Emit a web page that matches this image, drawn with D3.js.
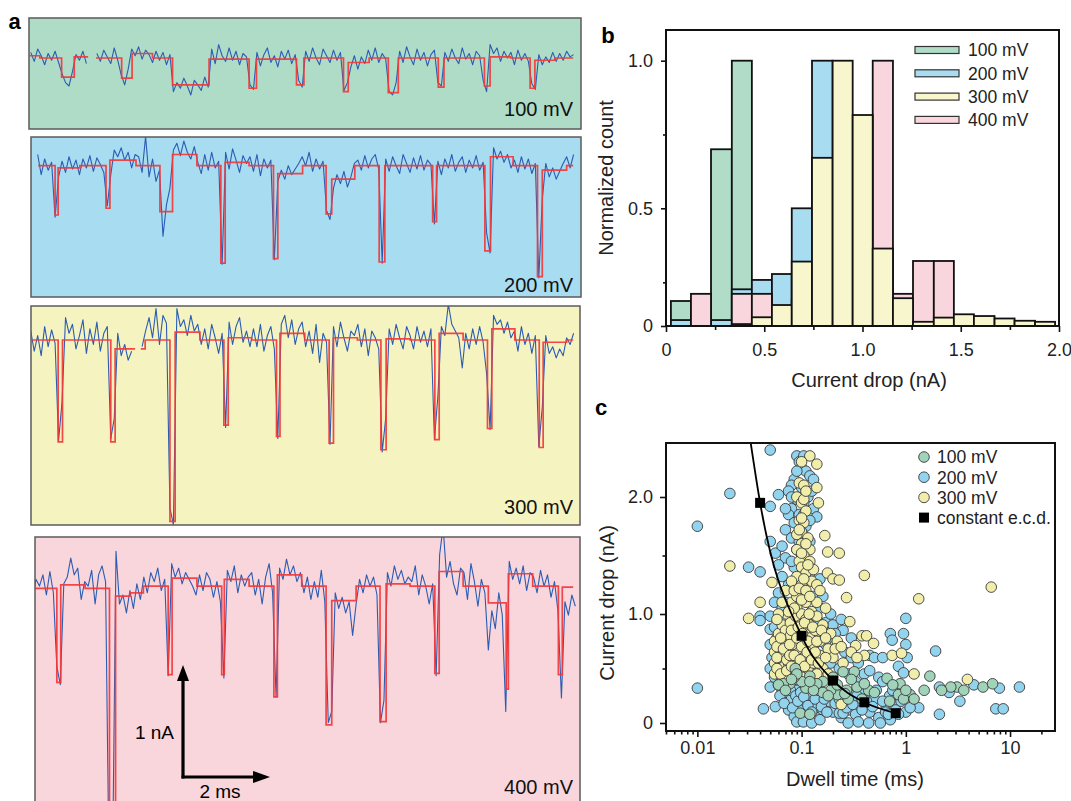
<!DOCTYPE html>
<html>
<head>
<meta charset="utf-8">
<script src="https://cdn.jsdelivr.net/npm/d3@7"></script>
<style>
  body { margin: 0; background: #fff; }
  svg { display: block; }
  text { font-family: "Liberation Sans", Arial, Helvetica, sans-serif; }
</style>
</head>
<body>
<svg id="fig" width="1071" height="801"></svg>
<script>
// ---------------- Panel a: current traces ----------------
const traceVoltages = ["100 mV", "200 mV", "300 mV", "400 mV"];

// Idealised (fitted) levels: [time ms, current nA relative to open pore]; null = gap in record
const fit100 = [[0.02,0.02],[0.25,0],[0.75,-0.17],[1.04,0.01],[1.36,0.01],[1.36,null],[1.54,0],[2.13,-0.18],[2.37,0.04],[2.84,0],[3.30,-0.24],[4.14,-0.01],[5.06,-0.27],[5.23,-0.01],[6.15,-0.24],[6.32,0],[7.23,-0.30],[7.34,-0.04],[7.82,0],[8.26,-0.31],[8.49,0],[9.41,-0.26],[9.54,0],[10.47,-0.25],[10.60,0.01],[11.07,0],[11.52,-0.27],[11.63,-0.02],[12.09,0],[12.51,0]];
const fit200 = [[0.21,0],[0.60,-0.44],[0.67,-0.02],[1.17,0],[1.77,-0.38],[1.86,0.05],[2.46,0],[3.01,-0.41],[3.30,0.10],[3.86,0],[4.41,-0.87],[4.51,0.03],[5.06,0],[5.62,-0.83],[5.72,-0.07],[6.29,0],[6.83,-0.43],[6.96,-0.12],[7.49,0],[8.05,-0.86],[8.18,0],[9.28,-0.50],[9.37,0],[10.48,-0.76],[10.61,0.08],[11.13,0],[11.69,-0.99],[11.80,-0.04],[12.36,0],[12.51,0]];
const fit300 = [[0.06,0],[0.67,-0.91],[0.77,0],[1.88,-0.91],[1.98,-0.08],[2.44,-0.08],[2.44,null],[2.57,-0.08],[2.67,0],[3.24,-1.62],[3.36,0.07],[3.93,0],[4.48,-0.76],[4.58,0.02],[5.12,0],[5.69,-0.86],[5.77,0.06],[6.34,0],[6.90,-0.92],[7.00,0.02],[7.55,0],[8.09,-0.98],[8.21,0.01],[8.76,0],[9.33,-0.89],[9.43,0.06],[9.98,0],[10.54,-0.79],[10.64,0.10],[11.17,0],[11.73,-0.96],[11.82,-0.02],[12.36,0],[12.51,0]];
const fit400 = [[0.10,0],[0.64,-0.84],[0.73,0.03],[1.29,0],[1.85,-2.3],[1.99,-0.07],[2.32,-0.04],[2.63,0.02],[3.20,-0.77],[3.29,0.09],[3.86,0.02],[4.43,-0.77],[4.49,0.08],[5.06,0.02],[5.63,-0.97],[5.71,0.12],[6.27,0.02],[6.83,-1.22],[6.96,-0.11],[7.52,0.02],[8.07,-1.19],[8.21,0.04],[8.76,0.02],[9.33,-0.76],[9.43,0.15],[9.98,0.02],[10.56,-0.13],[10.97,-0.90],[11.02,0.13],[11.58,0.02],[12.17,-0.77],[12.26,0.01],[12.51,0.01]];

// Recorded current, sampled every 0.08 ms, in units of 10 pA (null = gap)
const sampleStep = 0.08;
const sampleStart = [0.04, 0.20, 0.04, 0.08];
const raw100 = [5,-3,8, 2,-6,4,-2,6,-4, -14,-22,-25,-12, 3,-2,6,-5, null,null,
  4,-3,7,1,-5,9,-2, -15,-24,-10, 8,2,10,-1,7,3, -4,6,-2,5,-6,3,
  -30,-22,-27,-18,-25,-33,-20,-24,-29,-17,-26, 8,-5,12,2,-3,9,-2,6,-6,4,1,
  -24,-28, 5,-7,3,9,-4,2,-8,6,-1,7,-5,3, -20,-26, 6,-3,9,0,-6,8,2,-4,7,-2,5,
  -29,-22, -8,2,-10,1,-5, 7,-2,9,-4,4,-1, -30,-33,-22, 6,-4,10,1,-6,8,-2,5,-7,3,7,
  -22,-25, 5,-3,8,0,-5,9,-1,4,-6,6,2, -20,-30, 12,4,9,-3,6,0, 5,-6,7,-2,4,-3,
  -23,-28, 3,-6,1,-4,5,-3, 4,-2,6,1,3];
const raw200 = [10,-8,6,-4,3, -46, -10,4,-6,8,-3,5,-8, 6,-2,9,-5,7,1,-6, -36,
  -8,14,8,16,5,12,-2,10, 8,-6,26,-10,6,-14,-4, -63,-35,-20, 14,20,9,22,12,6,17,
  3,-7,10,-4,12,-2,4, -88, 12,-3,15,5,-6,9,2, 8,-5,10,-9,6,-2,5, -84,
  -14,-4,-12,0,-8,-3,2, 8,0,12,-5,6,-3,4, -40,-48, -20,-8,-16,-5,-19,-10,2,
  5,-4,9,-2,6,10,-3, -87, 6,-5,8,0,-7,10,2,-6,7,-3,9,-4,5,1, -52,
  4,-8,6,-2,10,-5,3,8,-6,5,-2,9,-4,3, -60,-78, 16,6,13,3,10,-2, 5,-6,8,-3,6,-7,2,
  -100, -30,2,-10,-2,-12,-5,2, 8,-2,10];
const raw300 = [8,-10,4,-14,12,-6,9,-3, -90,-55, 20,6,14,-8,4,18,-12,10,-4,16,-10,6,12,
  -88,-70, 6,-14,-4,-18,-10, null,null, -6, 8,20,2,28,-4,22,15, -150,-165,
  28,12,18,4,22,8,14, -4,10,-8,14,2,-12,6, -78, 16,-4,12,20,-2,8,-6,
  10,-6,14,-10,4,12,-8, -88, 14,22,2,18,-4,10,16, -6,8,-12,14,-20,6,-2, -93,
  12,-6,16,2,-10,8,4, 14,-6,10,-14,8,2,-8, -100,-70, 10,-4,14,2,-8,12,
  4,-8,12,-2,8,-6,10, -89,-50, 12,4,32,14,8,2, -25,6,-8,10,-4,12,-2, -30,-80,
  22,14,18,6,16,2, 8,-10,12,-4,6,-12,4, -95,-60, 4,-12,-6,-16,-8,-14, 2,-4,6];
const raw400 = [-10,8,2,12,-6,15,-4, -70,-86, 4,10,27,12,18,-10,6, 2,16,-14,12,20,6,
  -250,-250, 33,-14,-6,-22, -2,-18,4,-10, 10,-4,14,6,18,-2,8, -78,
  22,10,18,4,14,8,2, -6,12,-2,14,8,-8,6, -12,-80, 16,6,20,-4,12,2,10,
  14,-6,8,-14,10,22,-4, -97, 18,8,26,12,20,6,14, -4,10,-10,6,-8,16,-12,
  -120,-110, -4,-18,-8,-22,-12,-42,-14, 8,-4,12,2,10,-6, -120,-100,
  14,2,20,8,16,4,10, 6,20,-6,12,2,-14,4, -78, 30,55,10,24,4,-6,18,
  14,-10,22,6,-16,8,-4, -55,-20,-36,-4,-24,-110, 24,8,18,4,20,-2,14,
  10,-4,16,2,12,-8,6,-20, -98, -12,-24,-6,-16];

// ---------------- Panel b: current-drop histogram ----------------
const binEdges = [0.025,0.127,0.229,0.335,0.437,0.539,0.640,0.743,0.848,0.950,1.052,1.155,1.257,1.363,1.465,1.567,1.672,1.774,1.878,1.980];
const hist100 = [0.143,0,0.70,1.0,0,0,0,0,0,0,0,0,0,0,0,0,0,0,0];
const hist200 = [0.034,0,0.034,0.21,0.258,0.278,0.5,1.0,0.55,0.3,0.12,0.05,0,0,0,0,0,0,0];
const hist400 = [0,0.184,0,0.184,0.184,0.1,0.15,0.25,0.4,0.6,1.0,0.184,0.322,0.322,0,0,0,0,0];
const hist300 = [0,0,0,0.011,0.05,0.12,0.32,0.671,1.0,0.816,0.364,0.159,0.024,0.048,0.067,0.057,0.043,0.03,0.024];
const histXTicks = [0, 0.5, 1.0, 1.5, 2.0];
const histXTickLabels = ["0", "0.5", "1.0", "1.5", "2.0"];
const histXMinor = [0.25, 0.75, 1.25, 1.75];
const histYTicks = [0, 0.5, 1.0];
const histYTickLabels = ["0", "0.5", "1.0"];
const histYMinor = [0.25, 0.75];

// ---------------- Panel c: dwell time vs current drop ----------------
// [dwell time ms, current drop nA]
const scatter200 = [[0.01,1.75],[0.01,0.32],[0.0205,2.03],[0.031,1.4],[0.04,1.36],[0.05,2.4],[0.05,1.92],[0.06,2.02],[0.05,1.62],[0.056,1.52],[0.04,0.98],[0.04,0.94],[0.043,0.13],[0.056,0.15],[0.05,0.98],[0.05,0.86],[0.05,0.33],
  [0.09,2.35],[0.095,2.3],[0.1,2.25],[0.11,2.22],[0.085,2.15],[0.12,2.18],[0.13,2.15],[0.08,2.1],[0.1,2.08],[0.075,2.05],[0.115,2.0],[0.09,1.98],[0.105,1.95],[0.08,1.9],[0.13,1.9],[0.14,1.83],[0.075,1.85],[0.095,1.85],[0.085,1.78],[0.11,1.75],[0.07,1.72],[0.1,1.7],[0.08,1.65],[0.12,1.62],[0.065,1.58],[0.09,1.55],[0.07,1.48],[0.11,1.45],[0.06,1.42],[0.085,1.4],[0.065,1.32],[0.075,1.25],[0.06,1.18],[0.055,1.1],[0.065,1.05],[0.06,0.95],[0.055,0.88],[0.058,0.78],[0.055,0.7],[0.06,0.62],[0.055,0.55],
  [0.05,0.72],[0.052,0.6],[0.05,0.5],[0.055,0.42],[0.06,0.35],[0.065,0.3],
  [0.13,1.15],[0.15,1.05],[0.14,0.95],[0.17,0.92],[0.16,0.85],[0.2,0.9],[0.18,0.78],[0.25,0.85],[0.3,0.78],[0.22,0.7],[0.26,0.65],[0.3,0.6],[0.35,0.55],[0.45,0.62],[0.5,0.6],[0.4,0.45],[0.55,0.42],[0.6,0.38],
  [0.07,0.28],[0.08,0.22],[0.09,0.3],[0.1,0.18],[0.075,0.12],[0.085,0.06],[0.095,0.12],[0.11,0.08],[0.12,0.25],[0.13,0.15],[0.14,0.05],[0.15,0.22],[0.16,0.12],[0.18,0.2],[0.2,0.1],[0.22,0.3],[0.24,0.05],[0.26,0.2],[0.28,0.12],[0.3,0.25],[0.33,0.08],[0.36,0.18],[0.4,0.3],[0.45,0.1],[0.5,0.22],[0.55,0.05],[0.65,0.15],[0.7,0.25],[0.09,0.01],[0.104,0.01],[0.125,0.0],[0.15,0.03],[0.23,0.09],[0.25,0.09],[0.28,0.0],[0.35,0.01],[0.44,0.0],[0.57,0.0],[0.71,0.03],[0.64,0.1],[0.77,0.17],[0.8,0.12],
  [0.71,0.82],[0.74,0.76],[0.95,0.82],[1.0,0.96],[1.0,0.72],[1.03,0.6],[0.85,0.52],[0.95,0.46],[1.93,0.66],[2.1,0.33],[2.1,0.08],[2.6,0.28],[3.3,0.2],[4.5,0.35],[7.9,0.32],[12.3,0.33],[7.3,0.13],[8.6,0.13],[1.33,0.14],[1.0,0.1],[1.1,0.14],[0.9,0.2],[0.6,0.6],
  [0.062,0.25],[0.068,0.18],[0.072,0.35],[0.078,0.3],[0.082,0.14],[0.088,0.25],[0.092,0.2],[0.098,0.28],[0.105,0.24],[0.115,0.16],[0.118,0.35],[0.125,0.1],[0.135,0.22],[0.145,0.3],[0.155,0.15],[0.165,0.22],[0.175,0.1],[0.19,0.27],[0.21,0.18],[0.23,0.22],[0.27,0.14],[0.31,0.17],[0.34,0.25],[0.38,0.12],[0.42,0.2],[0.48,0.15],[0.52,0.3],[0.6,0.2],[0.68,0.08],[0.75,0.3],[0.85,0.08],[1.05,0.25],
  [0.1,0.55],[0.12,0.5],[0.16,0.6],[0.19,0.55],[0.23,0.5],[0.28,0.45],[0.33,0.38],[0.45,0.48],[0.17,0.72],[0.21,0.82],[0.24,0.95],[0.19,1.0],[0.15,1.3],[0.16,1.15],[0.12,1.35],[0.07,0.95],[0.065,0.8],[0.07,0.65],[0.065,0.55],[0.06,0.45],[0.07,1.1],[0.08,1.45],[0.095,1.62],[0.105,1.85],[0.12,1.8],[0.125,2.05],[0.09,2.22],[0.08,2.0],[0.07,1.9],[0.105,2.35],[0.1,1.5]];
const scatter300 = [[0.0205,1.41],[0.031,0.96],[0.04,1.1],[0.052,1.27],[0.12,2.35],[0.14,2.28],[0.145,1.95],[0.14,2.08],[0.167,1.67],[0.178,1.53],[0.23,1.52],[0.177,1.35],[0.2,1.3],[0.23,1.29],[0.27,1.14],[0.4,1.33],[1.33,1.13],[6.6,1.23],[0.29,0.93],[0.33,0.71],[0.38,0.8],[0.42,0.8],[0.49,0.73],[0.4,0.62],[0.74,0.62],[0.91,0.64],[1.2,0.45],[3.9,0.4],[0.24,0.17],[0.3,0.65],[0.34,0.6],
  [0.1,2.3],[0.095,2.12],[0.105,2.1],[0.09,2.0],[0.1,1.95],[0.11,1.88],[0.095,1.8],[0.105,1.78],[0.1,1.7],[0.09,1.68],[0.115,1.65],[0.1,1.6],[0.12,1.55],[0.09,1.55],[0.105,1.5],[0.095,1.45],[0.12,1.45],[0.1,1.4],[0.11,1.35],[0.09,1.32],[0.13,1.38],[0.125,1.28],[0.14,1.25],[0.15,1.2],[0.1,1.25],[0.08,1.28],[0.07,1.2],
  [0.055,0.45],[0.055,0.55],[0.055,0.65],[0.055,0.75],[0.06,0.82],[0.06,0.5],[0.062,0.6],[0.062,0.7],[0.065,0.9],[0.065,0.42],[0.068,0.52],[0.068,0.62],[0.07,0.75],[0.07,0.85],[0.072,1.0],[0.075,0.45],[0.075,0.55],[0.075,0.68],[0.078,0.8],[0.078,0.92],[0.08,1.1],[0.082,0.48],[0.082,0.6],[0.085,0.72],[0.085,0.85],[0.088,0.98],[0.09,1.05],[0.09,1.15],[0.09,0.4],[0.092,0.55],[0.095,0.65],[0.095,0.78],[0.098,0.9],[0.1,1.0],[0.1,0.48],[0.105,0.6],[0.105,0.72],[0.11,0.85],[0.11,0.95],[0.11,1.1],[0.115,0.5],[0.12,0.65],[0.12,0.78],[0.12,0.9],[0.125,1.02],[0.13,0.55],[0.13,0.7],[0.135,0.85],[0.14,0.98],[0.14,1.1],[0.15,0.62],[0.15,0.75],[0.16,0.9],[0.17,1.05],[0.16,0.5],[0.18,0.68],[0.2,0.6],[0.19,0.82],[0.22,0.75],[0.06,1.0],[0.065,1.1],[0.058,0.95],[0.072,0.4],[0.1,0.42],[0.14,0.45],[0.18,0.45],[0.25,0.55],[0.085,1.2],[0.095,1.22],[0.11,1.2],
  [0.058,0.5],[0.058,0.6],[0.058,0.7],[0.063,0.45],[0.063,0.78],[0.067,0.68],[0.072,0.58],[0.072,0.48],[0.077,0.62],[0.077,0.72],[0.08,0.85],[0.08,0.52],[0.085,0.62],[0.088,0.45],[0.09,0.78],[0.093,0.88],[0.097,0.58],[0.1,0.7],[0.102,0.82],[0.107,0.52],[0.107,0.92],[0.113,0.65],[0.115,0.75],[0.118,1.0],[0.125,0.58],[0.128,0.88],[0.135,0.65],[0.14,0.75],[0.145,0.55],[0.155,0.85],[0.17,0.6],[0.17,0.78],[0.21,0.68],[0.24,0.7],[0.085,1.05],[0.075,1.02],[0.1,1.12],[0.12,1.15],[0.105,1.3],[0.115,1.42],[0.1,1.52],[0.11,1.6],[0.095,1.72],[0.1,1.82],[0.105,1.98],[0.11,2.05]];
const scatter100 = [[1.7,0.43],[3.1,0.33],[2.7,0.33],[5.5,0.33],[6.8,0.36],[1.1,0.26],[0.85,0.26],[0.88,0.36],[0.66,0.41],[0.44,0.3],[0.34,0.33],[0.32,0.47],[0.25,0.47],[0.22,0.26],[0.19,0.3],[0.16,0.38],[0.14,0.36],[0.12,0.43],[0.097,0.09],[0.087,0.5],[0.077,0.36],[0.067,0.36],[0.06,0.35],[0.11,0.32],[0.16,0.28],[0.22,0.35],[0.27,0.3],[0.38,0.22],[0.5,0.28],[0.75,0.35],[0.3,0.4],[0.2,0.42],[0.13,0.3],[0.1,0.38],[0.085,0.42],[0.28,0.22],[0.4,0.36],[0.95,0.22],[1.2,0.22],[0.09,0.45],
  [0.07,0.3],[0.08,0.4],[0.12,0.38],[0.18,0.25],[0.26,0.27],[0.7,0.2],[1.5,0.3],[2.2,0.3],[3.6,0.3],[1.0,0.3],[0.12,0.08]];
// constant event-charge-deficit reference points and guide curve
const ecdTimes = [0.04, 0.1, 0.2, 0.4, 0.8];
const ecdDrops = [1.95, 0.8, 0.39, 0.19, 0.09];
const ecdCurve = [[0.0325,2.46],[0.04,1.95],[0.1,0.8],[0.2,0.39],[0.4,0.19],[0.8,0.09]];
const dwellTicks = [0.01, 0.1, 1, 10];
const dwellTickLabels = ["0.01", "0.1", "1", "10"];
const dropTicks = [0, 1, 2];
const dropTickLabels = ["0", "1.0", "2.0"];
const dropMinor = [0.5, 1.5];
const scatterLegend = ["100 mV", "200 mV", "300 mV", "constant e.c.d."];

// ================= drawing =================
const svg = d3.select("#fig");
const defs = svg.append("defs");

const panelFill = { "100 mV": "#afdcc7", "200 mV": "#a7dcf1", "300 mV": "#f5f4c0", "400 mV": "#f8d6dc" };
const barFill   = { "100 mV": "#b0dcc8", "200 mV": "#a8dcf0", "300 mV": "#f7f6cc", "400 mV": "#f9d5dd" };
const dotFill   = { "100 mV": "#a0d3ba", "200 mV": "#92d3ee", "300 mV": "#f1eeac" };

// --- panel a ---
const timeX = d3.scaleLinear().domain([0, 12.69]).range([29, 581]);
const pxPerNA = 112;
const traceLayout = [
  { box: [29, 18, 581, 129],  base: 58,    labelY: 116 },
  { box: [31, 137, 581, 297], base: 165.7, labelY: 292 },
  { box: [31, 306, 580, 525], base: 340,   labelY: 514 },
  { box: [35, 537, 580, 812], base: 588.3, labelY: 794 }
];
const fits = [fit100, fit200, fit300, fit400];
const raws = [raw100, raw200, raw300, raw400];

traceVoltages.forEach((v, k) => {
  const L = traceLayout[k];
  const [x0, y0, x1, y1] = L.box;
  const y = d3.scaleLinear().domain([0, -1]).range([L.base, L.base + pxPerNA]);
  const clipId = "clip-trace-" + k;
  defs.append("clipPath").attr("id", clipId)
    .append("rect").attr("x", x0).attr("y", y0).attr("width", x1 - x0).attr("height", y1 - y0);

  svg.append("rect").attr("x", x0).attr("y", y0).attr("width", x1 - x0).attr("height", y1 - y0)
    .attr("fill", panelFill[v]);

  const g = svg.append("g").attr("clip-path", `url(#${clipId})`);
  const samples = raws[k].map((d, i) => [sampleStart[k] + i * sampleStep, d === null ? null : d / 100]);
  const line = d3.line().defined(d => d[1] !== null).x(d => timeX(d[0])).y(d => y(d[1]));
  g.append("path").attr("d", line(samples))
    .attr("fill", "none").attr("stroke", "#2b5cb3").attr("stroke-width", 1.1).attr("stroke-linejoin", "round");
  g.append("path").attr("d", line.curve(d3.curveStepAfter)(fits[k]))
    .attr("fill", "none").attr("stroke", "#f2383a").attr("stroke-opacity", 0.92).attr("stroke-width", 1.7);

  svg.append("rect").attr("x", x0).attr("y", y0).attr("width", x1 - x0).attr("height", y1 - y0)
    .attr("fill", "none").attr("stroke", "#5b5b5b").attr("stroke-width", 1.5);

  svg.append("text").attr("x", 573).attr("y", L.labelY).attr("text-anchor", "end")
    .attr("font-size", 20).attr("fill", "#111").text(v);
});

// scale bar (1 nA, 2 ms) drawn from the trace scales
{
  const cx = 183, cy = 777;
  const yLen = pxPerNA * 1;
  const xLen = timeX(2) - timeX(0);
  const sb = svg.append("g");
  sb.append("line").attr("x1", cx).attr("y1", cy + 1.5).attr("x2", cx).attr("y2", cy - yLen + 14)
    .attr("stroke", "#000").attr("stroke-width", 3.2);
  sb.append("line").attr("x1", cx - 1.5).attr("y1", cy).attr("x2", cx + xLen - 14).attr("y2", cy)
    .attr("stroke", "#000").attr("stroke-width", 3.2);
  sb.append("path").attr("d", `M${cx},${cy - yLen} L${cx - 6},${cy - yLen + 16} L${cx + 6},${cy - yLen + 16} Z`).attr("fill", "#000");
  sb.append("path").attr("d", `M${cx + xLen},${cy} L${cx + xLen - 17},${cy - 6} L${cx + xLen - 17},${cy + 6} Z`).attr("fill", "#000");
  sb.append("text").attr("x", 174).attr("y", 739).attr("text-anchor", "end")
    .attr("font-family", "'Open Sans', 'Liberation Sans', sans-serif").attr("font-size", 19).text("1 nA");
  sb.append("text").attr("x", 220).attr("y", 798).attr("text-anchor", "middle")
    .attr("font-family", "'Open Sans', 'Liberation Sans', sans-serif").attr("font-size", 19).text("2 ms");
}

// panel letters
svg.append("text").attr("x", 14.5).attr("y", 29).attr("text-anchor", "middle").attr("font-size", 22).attr("font-weight", "bold").text("a");
svg.append("text").attr("x", 608).attr("y", 43).attr("text-anchor", "middle").attr("font-size", 22).attr("font-weight", "bold").text("b");
svg.append("text").attr("x", 601).attr("y", 415).attr("text-anchor", "middle").attr("font-size", 22).attr("font-weight", "bold").text("c");

// --- panel b ---
{
  const xB = d3.scaleLinear().domain([0, 2]).range([666, 1059]);
  const yB = d3.scaleLinear().domain([0, 0.25, 0.5, 1.0, 1.104]).range([326, 282.3, 208.3, 60.7, 30]);
  const g = svg.append("g");
  const drawOrder = [["100 mV", hist100], ["200 mV", hist200], ["400 mV", hist400], ["300 mV", hist300]];
  drawOrder.forEach(([name, vals]) => {
    g.append("g").selectAll("rect")
      .data(vals.map((v, i) => ({ v, i })).filter(d => d.v > 0))
      .join("rect")
      .attr("x", d => xB(binEdges[d.i]))
      .attr("width", d => xB(binEdges[d.i + 1]) - xB(binEdges[d.i]))
      .attr("y", d => yB(d.v))
      .attr("height", d => yB(0) - yB(d.v))
      .attr("fill", barFill[name]).attr("stroke", "#111").attr("stroke-width", 1.8);
  });
  g.append("rect").attr("x", 666).attr("y", 30).attr("width", 1059 - 666).attr("height", 326 - 30)
    .attr("fill", "none").attr("stroke", "#111").attr("stroke-width", 2);

  const ax = g.append("g").attr("transform", "translate(0,326)")
    .call(d3.axisBottom(xB).tickValues(histXTicks).tickFormat((d, i) => histXTickLabels[i]).tickSize(6).tickPadding(11));
  const axm = g.append("g").attr("transform", "translate(0,326)")
    .call(d3.axisBottom(xB).tickValues(histXMinor).tickFormat("").tickSize(4));
  const ay = g.append("g").attr("transform", "translate(666,0)")
    .call(d3.axisLeft(yB).tickValues(histYTicks).tickFormat((d, i) => histYTickLabels[i]).tickSize(5).tickPadding(8));
  const aym = g.append("g").attr("transform", "translate(666,0)")
    .call(d3.axisLeft(yB).tickValues(histYMinor).tickFormat("").tickSize(3));
  [ax, axm, ay, aym].forEach(a => {
    a.select(".domain").remove();
    a.selectAll("line").attr("stroke", "#111").attr("stroke-width", 1.6);
    a.selectAll("text").attr("font-size", 18).attr("fill", "#222").attr("font-family", "'Liberation Sans', Arial, sans-serif");
  });

  g.append("text").attr("transform", "translate(613,178) rotate(-90)").attr("text-anchor", "middle")
    .attr("font-size", 20).attr("fill", "#222").text("Normalized count");
  g.append("text").attr("x", 869).attr("y", 387).attr("text-anchor", "middle")
    .attr("font-size", 20).attr("fill", "#222").text("Current drop (nA)");

  const legendNames = ["100 mV", "200 mV", "300 mV", "400 mV"];
  const lg = g.append("g");
  legendNames.forEach((n, i) => {
    const cy = 50 + i * 23.3;
    lg.append("rect").attr("x", 915).attr("y", cy - 3.5).attr("width", 44).attr("height", 7)
      .attr("fill", barFill[n]).attr("stroke", "#333").attr("stroke-width", 1.2);
    lg.append("text").attr("x", 968).attr("y", cy).attr("dy", "0.36em").attr("font-size", 17.5).attr("fill", "#222").text(n);
  });
}

// --- panel c ---
{
  const xC = d3.scaleLog().domain([0.005, 27]).range([666, 1055]);
  const yC = d3.scaleLinear().domain([-0.075, 0, 1, 2, 2.46]).range([731, 723, 614, 497, 443]);
  const g = svg.append("g");
  defs.append("clipPath").attr("id", "clip-c")
    .append("rect").attr("x", 666).attr("y", 443).attr("width", 1055 - 666).attr("height", 731 - 443);
  const plot = g.append("g").attr("clip-path", "url(#clip-c)");

  [["200 mV", scatter200], ["300 mV", scatter300], ["100 mV", scatter100]].forEach(([n, pts]) => {
    plot.append("g").selectAll("circle").data(pts).join("circle")
      .attr("cx", d => xC(d[0])).attr("cy", d => yC(d[1])).attr("r", 5.3)
      .attr("fill", dotFill[n]).attr("stroke", "#3a3a3a").attr("stroke-width", 0.9);
  });

  const curve = d3.line().x(d => xC(d[0])).y(d => yC(d[1])).curve(d3.curveMonotoneX);
  plot.append("path").attr("d", curve(ecdCurve)).attr("fill", "none").attr("stroke", "#000").attr("stroke-width", 1.8);
  plot.append("g").selectAll("rect").data(ecdTimes.map((t, i) => [t, ecdDrops[i]])).join("rect")
    .attr("x", d => xC(d[0]) - 5).attr("y", d => yC(d[1]) - 5).attr("width", 10).attr("height", 10).attr("fill", "#000");

  g.append("rect").attr("x", 666).attr("y", 443).attr("width", 1055 - 666).attr("height", 731 - 443)
    .attr("fill", "none").attr("stroke", "#111").attr("stroke-width", 2);

  const ax = g.append("g").attr("transform", "translate(0,731)")
    .call(d3.axisBottom(xC).tickValues(dwellTicks).tickFormat((d, i) => dwellTickLabels[i]).tickSize(6).tickPadding(4));
  const minorX = xC.ticks().filter(t => !dwellTicks.some(m => Math.abs(m - t) < 1e-9));
  const axm = g.append("g").attr("transform", "translate(0,731)")
    .call(d3.axisBottom(xC).tickValues(minorX).tickFormat("").tickSize(3.5));
  const ay = g.append("g").attr("transform", "translate(666,0)")
    .call(d3.axisLeft(yC).tickValues(dropTicks).tickFormat((d, i) => dropTickLabels[i]).tickSize(6).tickPadding(7));
  const aym = g.append("g").attr("transform", "translate(666,0)")
    .call(d3.axisLeft(yC).tickValues(dropMinor).tickFormat("").tickSize(3.5));
  [ax, axm, ay, aym].forEach(a => {
    a.select(".domain").remove();
    a.selectAll("line").attr("stroke", "#111").attr("stroke-width", 1.6);
    a.selectAll("text").attr("font-size", 18).attr("fill", "#222").attr("font-family", "'Liberation Sans', Arial, sans-serif");
  });

  g.append("text").attr("transform", "translate(614,603) rotate(-90)").attr("text-anchor", "middle")
    .attr("font-size", 20).attr("fill", "#222").text("Current drop (nA)");
  g.append("text").attr("x", 855).attr("y", 786).attr("text-anchor", "middle")
    .attr("font-size", 20).attr("fill", "#222").text("Dwell time (ms)");

  const lg = g.append("g");
  scatterLegend.forEach((n, i) => {
    const cy = 457 + i * 20.2;
    if (i < 3) {
      lg.append("circle").attr("cx", 924).attr("cy", cy).attr("r", 5.3)
        .attr("fill", dotFill[n]).attr("stroke", "#3a3a3a").attr("stroke-width", 0.9);
    } else {
      lg.append("rect").attr("x", 919).attr("y", cy - 5).attr("width", 10).attr("height", 10).attr("fill", "#000");
    }
    lg.append("text").attr("x", 937).attr("y", cy).attr("dy", "0.36em").attr("font-size", 17.5).attr("fill", "#222").text(n);
  });
}
</script>
</body>
</html>
